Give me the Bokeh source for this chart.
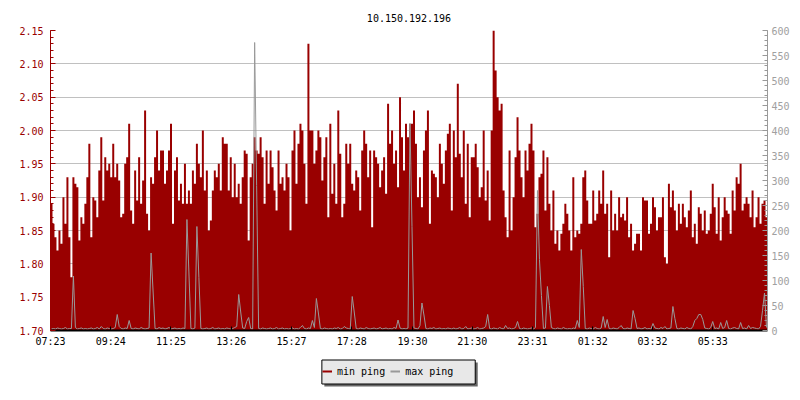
from bokeh.plotting import figure
from bokeh.layouts import column
from bokeh.core.properties import value
from bokeh.models import (Range1d, LinearAxis, FixedTicker, Legend, LegendItem,
                          PrintfTickFormatter)
from bokeh.embed import file_html
from bokeh.resources import INLINE

title_text = "10.150.192.196"
start_label = "07:23"
step_minutes = 4
time_labels = ["07:23", "09:24", "11:25", "13:26", "15:27", "17:28",
               "19:30", "21:30", "23:31", "01:32", "03:32", "05:33"]
left_ticks = [1.70, 1.75, 1.80, 1.85, 1.90, 1.95, 2.00, 2.05, 2.10, 2.15]
right_ticks = [0, 50, 100, 150, 200, 250, 300, 350, 400, 450, 500, 550, 600]
series_names = ["min ping", "max ping"]

# min ping (left axis), one value per 4 minutes from 07:23
min_ping = [
    1.89, 1.86, 1.84, 1.82, 1.85, 1.83, 1.90, 1.86, 1.93, 1.84,
    1.78, 1.93, 1.92, 1.915, 1.835, 1.87, 1.86, 1.89, 1.93, 1.98,
    1.84, 1.90, 1.895, 1.87, 1.94, 1.99, 1.895, 1.96, 1.94, 1.95,
    1.93, 1.98, 1.93, 1.95, 1.925, 1.87, 1.875, 1.95, 1.96, 2.01,
    1.88, 1.86, 1.94, 1.895, 1.96, 1.89, 1.925, 2.03, 1.875, 1.85,
    1.93, 1.92, 1.96, 2.00, 1.94, 1.97, 1.97, 1.92, 1.94, 1.97,
    2.01, 1.86, 1.94, 1.96, 1.895, 1.92, 1.89, 1.95, 1.89, 1.91,
    1.89, 1.94, 1.92, 1.98, 1.95, 1.93, 2.00, 1.91, 1.94, 1.85,
    1.865, 1.91, 1.94, 1.93, 1.95, 1.91, 1.99, 1.98, 1.98, 1.91,
    1.96, 1.90, 1.95, 1.90, 1.92, 1.89, 1.93, 1.97, 1.965, 1.835,
    1.93, 1.95, 1.99, 1.97, 1.965, 1.99, 1.96, 1.89, 1.97, 1.92,
    1.97, 1.945, 1.91, 1.88, 1.97, 1.92, 1.93, 1.91, 1.95, 1.93,
    1.85, 1.97, 2.00, 1.92, 1.98, 2.01, 2.00, 1.95, 1.89, 2.13,
    2.00, 2.00, 1.95, 1.97, 2.00, 1.99, 1.925, 1.96, 1.99, 1.87,
    2.01, 1.905, 1.95, 1.89, 2.03, 1.965, 1.87, 1.89, 1.98, 1.95,
    1.98, 1.92, 1.91, 1.94, 1.93, 1.88, 1.97, 2.00, 1.98, 1.93,
    1.97, 1.855, 1.97, 1.96, 1.95, 1.915, 1.94, 1.96, 1.905, 2.04,
    1.98, 2.00, 1.95, 1.97, 1.915, 2.05, 1.99, 1.94, 2.01, 1.99,
    2.01, 2.01, 2.03, 1.98, 1.90, 1.93, 1.885, 1.97, 2.00, 2.03,
    1.86, 1.94, 1.935, 1.93, 1.90, 1.98, 1.95, 1.92, 1.97, 1.995,
    2.01, 1.88, 2.00, 1.96, 2.07, 1.965, 1.93, 2.00, 1.89, 1.98,
    1.87, 1.96, 1.96, 1.98, 1.945, 1.90, 1.915, 2.00, 1.895, 1.94,
    1.865, 2.00, 2.15, 2.09, 2.05, 2.03, 2.04, 1.91, 1.87, 1.84,
    1.97, 1.85, 1.90, 1.96, 2.02, 1.97, 1.93, 1.90, 1.97, 1.94,
    1.98, 2.01, 1.97, 1.855, 1.875, 1.93, 1.935, 1.97, 1.88, 1.96,
    1.89, 1.85, 1.91, 1.83, 1.85, 1.82, 1.845, 1.86, 1.89, 1.875,
    1.85, 1.82, 1.93, 1.84, 1.85, 1.845, 1.86, 1.93, 1.94, 1.895,
    1.86, 1.86, 1.91, 1.865, 1.875, 1.91, 1.89, 1.94, 1.875, 1.89,
    1.81, 1.91, 1.85, 1.875, 1.85, 1.90, 1.87, 1.875, 1.865, 1.90,
    1.84, 1.86, 1.82, 1.83, 1.845, 1.845, 1.82, 1.90, 1.895, 1.895,
    1.845, 1.86, 1.90, 1.885, 1.85, 1.87, 1.87, 1.90, 1.81, 1.80,
    1.92, 1.885, 1.91, 1.88, 1.85, 1.89, 1.86, 1.89, 1.87, 1.855,
    1.88, 1.91, 1.84, 1.86, 1.83, 1.885, 1.875, 1.85, 1.88, 1.845,
    1.85, 1.875, 1.92, 1.885, 1.845, 1.90, 1.835, 1.87, 1.90, 1.88,
    1.875, 1.845, 1.91, 1.88, 1.93, 1.92, 1.95, 1.88, 1.89, 1.90,
    1.89, 1.87, 1.91, 1.855, 1.87, 1.90, 1.86, 1.89, 1.895, 1.87,
]

# max ping (right axis, ms), one value per 4 minutes from 07:23
max_ping = [
    3, 4, 3, 5, 4, 3, 4, 6, 3, 4, 4, 109, 6, 3, 4, 5, 3, 4, 3, 4,
    5, 3, 4, 6, 3, 8, 4, 3, 5, 4, 3, 4, 6, 32, 8, 4, 3, 5, 4, 20,
    4, 3, 5, 4, 3, 6, 4, 3, 4, 5, 155, 79, 4, 3, 6, 4, 5, 3, 4, 6,
    3, 4, 5, 3, 4, 3, 5, 4, 222, 115, 4, 3, 5, 208, 106, 4, 3, 4, 5, 3,
    4, 6, 3, 4, 5, 3, 4, 3, 5, 4, 3, 4, 6, 8, 72, 37, 5, 4, 18, 26,
    4, 3, 576, 290, 4, 3, 5, 4, 3, 4, 5, 3, 4, 6, 3, 4, 5, 3, 4, 3,
    4, 5, 3, 4, 3, 6, 10, 4, 3, 5, 4, 20, 6, 64, 35, 4, 3, 5, 4, 3,
    4, 3, 5, 4, 6, 3, 4, 8, 5, 4, 3, 68, 37, 4, 3, 5, 4, 3, 6, 4,
    3, 4, 5, 3, 4, 6, 3, 4, 5, 3, 4, 3, 6, 4, 21, 5, 3, 4, 3, 5,
    414, 208, 5, 4, 3, 10, 55, 31, 4, 3, 5, 4, 6, 3, 4, 5, 3, 4, 3, 5,
    4, 3, 5, 3, 4, 6, 3, 4, 8, 3, 4, 5, 3, 4, 6, 3, 4, 5, 8, 32,
    4, 3, 5, 4, 3, 6, 4, 3, 10, 4, 5, 3, 4, 6, 18, 4, 3, 5, 4, 3,
    4, 5, 3, 6, 280, 142, 70, 4, 5, 88, 50, 6, 4, 3, 5, 4, 3, 6, 4, 3,
    4, 3, 5, 4, 20, 6, 162, 88, 4, 3, 5, 4, 3, 6, 4, 3, 5, 28, 6, 22,
    4, 3, 5, 4, 3, 6, 10, 4, 3, 5, 4, 3, 40, 24, 4, 5, 3, 4, 6, 3,
    4, 3, 14, 5, 4, 3, 6, 4, 8, 3, 4, 5, 48, 24, 4, 3, 5, 4, 3, 6,
    4, 3, 8, 20, 24, 32, 32, 22, 5, 4, 3, 6, 18, 4, 5, 3, 16, 4, 6, 20,
    4, 3, 5, 6, 4, 3, 16, 4, 5, 3, 10, 4, 6, 5, 4, 3, 8, 40, 75, 6,
]

RED = "#990000"
GRAY = "#999999"
FONT = "DejaVu Sans Mono"
W = 792
FL, FR = 50, 22          # frame borders (left, right)

n = len(min_ping)
span = n * step_minutes


def to_minutes(lbl):
    h, m = lbl.split(":")
    return int(h) * 60 + int(m)


t0 = to_minutes(start_label)
tick_pos = [(to_minutes(l) - t0) % 1440 for l in time_labels]

x_edges = [i * step_minutes for i in range(n + 1)]
y_edges = min_ping + [min_ping[-1]]
x_mid = [i * step_minutes + step_minutes / 2 for i in range(n)]


def strip(height):
    """A bare figure whose frame is aligned with the main frame; pixel coords, y down."""
    f = figure(width=W, height=height, output_backend="svg", toolbar_location=None,
               x_range=Range1d(FL, W - FR), y_range=Range1d(height, 0),
               x_axis_type=None, y_axis_type=None, min_border=0,
               min_border_left=FL, min_border_right=FR)
    f.outline_line_color = None
    f.xgrid.visible = False
    f.ygrid.visible = False
    f.background_fill_color = "white"
    f.border_fill_color = "white"
    return f


# title strip
TH = 22
pt = strip(TH)
pt.text(x=[(FL + W - FR) / 2], y=[17], text=[title_text], text_align="center",
        text_baseline="alphabetic", text_font=value(FONT),
        text_font_size=value("10px"), text_color="black")

# main chart
p = figure(width=W, height=328, output_backend="svg", toolbar_location=None,
           x_range=Range1d(0, span), y_range=Range1d(left_ticks[0], left_ticks[-1]),
           min_border_left=FL, min_border_right=FR, min_border_top=8,
           min_border_bottom=20)
p.extra_y_ranges = {"max": Range1d(right_ticks[0], right_ticks[-1])}
p.outline_line_color = None
p.background_fill_color = "white"
p.border_fill_color = "white"

p.varea_step(x=x_edges, y1=[left_ticks[0]] * (n + 1), y2=y_edges,
             step_mode="after", fill_color=RED)
p.line(x=x_mid, y=max_ping, line_color=GRAY, line_width=1,
       y_range_name="max")

# x axis
xa = p.xaxis[0]
xa.ticker = FixedTicker(ticks=tick_pos)
xa.major_label_overrides = {t: l for t, l in zip(tick_pos, time_labels)}
xa.axis_line_color = "black"
xa.axis_line_width = 2
xa.major_tick_line_color = "black"
xa.major_tick_in = 4
xa.major_tick_out = 0
xa.minor_tick_line_color = None
xa.major_label_text_font = FONT
xa.major_label_text_font_size = "10px"
xa.major_label_text_color = "black"
xa.major_label_standoff = 5
p.xgrid.visible = False

# left axis
left_minor = [round(left_ticks[0] + 0.01 * k, 2) for k in range(46)]
ya = p.yaxis[0]
ya.ticker = FixedTicker(ticks=left_ticks, minor_ticks=left_minor)
ya.formatter = PrintfTickFormatter(format="%.2f")
ya.axis_line_color = RED
ya.major_tick_line_color = RED
ya.minor_tick_line_color = RED
ya.major_tick_in = 5
ya.major_tick_out = 0
ya.minor_tick_in = 3
ya.minor_tick_out = 0
ya.major_label_text_font = FONT
ya.major_label_text_font_size = "10px"
ya.major_label_text_color = RED
ya.major_label_standoff = 7
p.ygrid.grid_line_color = "#c0c0c0"
p.ygrid.grid_line_width = 1

# right axis
right_minor = list(range(right_ticks[0], right_ticks[-1] + 1, 10))
ra = LinearAxis(y_range_name="max",
                ticker=FixedTicker(ticks=right_ticks, minor_ticks=right_minor))
ra.axis_line_color = GRAY
ra.major_tick_line_color = GRAY
ra.minor_tick_line_color = GRAY
ra.major_tick_in = 5
ra.major_tick_out = 0
ra.minor_tick_in = 3
ra.minor_tick_out = 0
ra.major_label_text_font = FONT
ra.major_label_text_font_size = "10px"
ra.major_label_text_color = "#a0a0a0"
ra.major_label_standoff = 4
p.add_layout(ra, "right")

# legend strip
LH = 42
pl = strip(LH)
pl.quad(left=[325], right=[479], top=[12], bottom=[36],
        fill_color="#666666", line_color=None)
pl.quad(left=[322.5], right=[476.5], top=[9.5], bottom=[33.5],
        fill_color="#e8e8e8", line_color="black", line_width=1)

# hidden series renderers used only as legend entries
r_min = pl.line(x=x_mid, y=min_ping, line_color=RED, line_width=2, visible=False)
r_max = pl.line(x=x_mid, y=max_ping, line_color=GRAY, line_width=2, visible=False)
legend = Legend(items=[LegendItem(label=series_names[0], renderers=[r_min]),
                       LegendItem(label=series_names[1], renderers=[r_max])],
                orientation="horizontal", location=(322 - FL, 14),
                label_text_font=FONT, label_text_font_size="10px",
                label_text_color="black", glyph_width=10, glyph_height=14,
                label_height=14, label_standoff=5, spacing=5, padding=5,
                margin=0, border_line_color=None, background_fill_alpha=0,
                inactive_fill_alpha=0, click_policy="none")
pl.add_layout(legend, "center")

layout = column(pt, p, pl, spacing=0)
open("out.html", "w").write(file_html(layout, INLINE))
